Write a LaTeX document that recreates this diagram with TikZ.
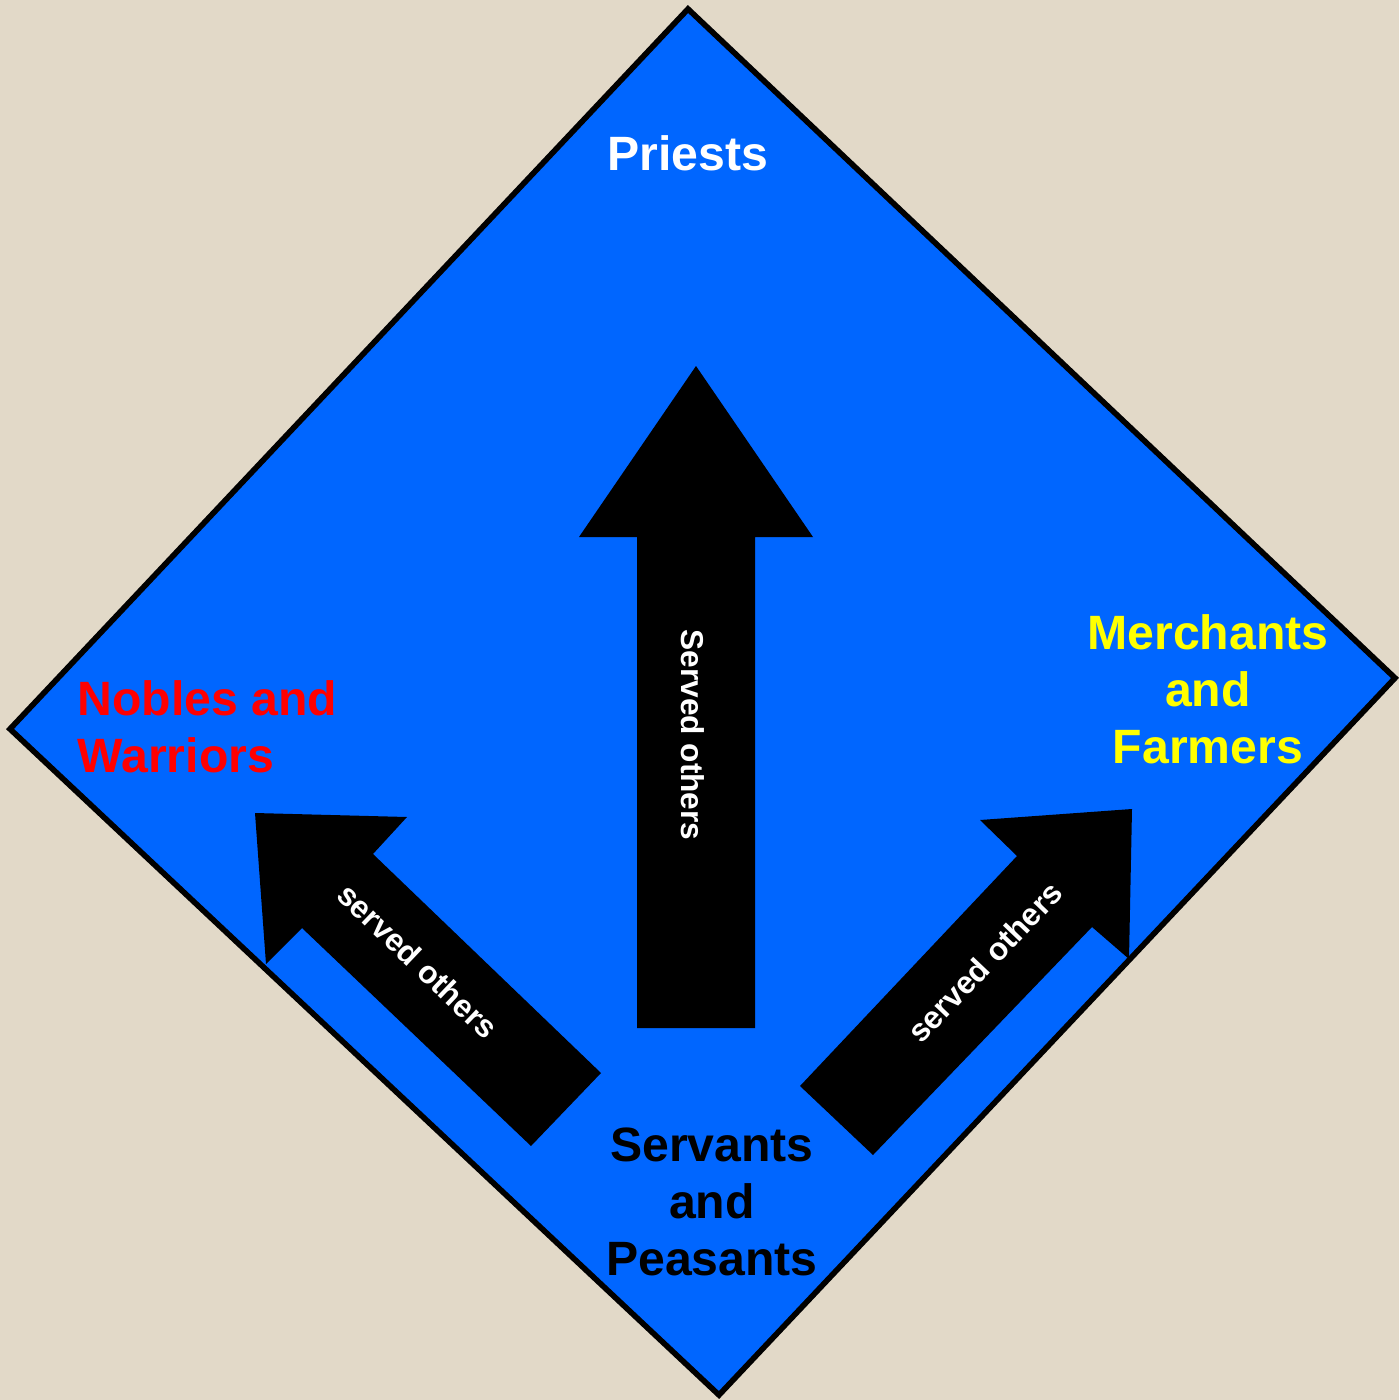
\documentclass[tikz,border=0pt]{standalone}
\usepackage{xcolor}
\usepackage{fontspec}
\setmainfont{Liberation Sans}
\usetikzlibrary{positioning}
\definecolor{sandbg}{RGB}{226, 217, 200}
\definecolor{diamondblue}{RGB}{0, 102, 255}
\definecolor{noblered}{RGB}{255, 0, 0}
\definecolor{merchyellow}{RGB}{255, 255, 0}

\begin{document}
\begin{tikzpicture}[x=0.01cm, y=-0.01cm,
  caste/.style={font=\fontsize{13.7}{16.2}\selectfont\bfseries, inner sep=0pt, align=center},
  blockarrow/.style={fill=black, draw=none},
  arrowtext/.style={font=\fontsize{9}{11}\selectfont\bfseries, text=white, inner sep=0pt}
]
  % Background
  \fill[sandbg] (0,0) rectangle (1399,1400);
  \useasboundingbox (0,0) rectangle (1399,1400);

  % Diamond
  \draw[fill=diamondblue, line width=1.6pt, line join=miter] (688,9) -- (1395,678) -- (719,1395) -- (10,729) -- cycle;

  % Arrows
  \fill[blockarrow] (696,366) -- (813,537) -- (755,537) -- (755,1028) -- (637,1028) -- (637,537) -- (579,537) -- cycle;
  \fill[blockarrow] (255,813) -- (407,817) -- (373,854) -- (601,1073) -- (531,1146) -- (302,928) -- (266,964) -- cycle;
  \fill[blockarrow] (1132,809) -- (1129,959) -- (1092,927) -- (873,1155) -- (800,1086) -- (1017,856) -- (980,820) -- cycle;

  % Castes
  \node[caste, text=white, anchor=base] (priests) at (688,171) {Priests};
  \node[caste, text=noblered, align=left, anchor=north west] (nobles) at (77,680) {Nobles and\\Warriors};
  \node[caste, text=merchyellow, anchor=north] (merchants) at (1208,614) {Merchants\\and\\Farmers};
  \node[caste, text=black, anchor=north] (servants) at (712,1127) {Servants\\and\\Peasants};

  % Labels on arrows
  \node[arrowtext, rotate=-90] (servedup) at (693,735) {Served others};
  \node[arrowtext, rotate=-43.7] (servedleft) at (418,961) {served others};
  \node[arrowtext, rotate=46.4] (servedright) at (985,962) {served others};
\end{tikzpicture}
\end{document}
